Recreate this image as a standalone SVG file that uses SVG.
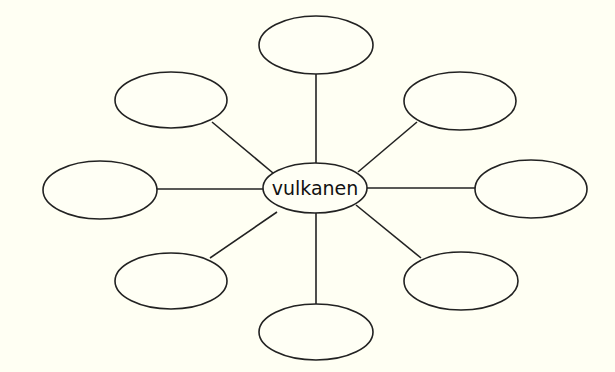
<svg xmlns="http://www.w3.org/2000/svg" width="615" height="372" viewBox="0 0 615 372">
<style>
.n{fill:#FFFFF5;stroke:#222;stroke-width:1.6}
.c line{stroke:#222;stroke-width:1.6}
.t{font-family:"DejaVu Sans",sans-serif;font-size:19px;fill:#111;text-anchor:middle}
</style>
<rect width="615" height="372" fill="#FFFFF3"/>
<g class="c" id="connectors">
<line x1="316" y1="74" x2="316" y2="163"/>
<line x1="316" y1="213" x2="316" y2="304"/>
<line x1="156" y1="189" x2="263" y2="189"/>
<line x1="367" y1="188" x2="475" y2="188"/>
<line x1="212" y1="122" x2="273" y2="173"/>
<line x1="417" y1="122" x2="358" y2="172"/>
<line x1="277" y1="212" x2="210" y2="258"/>
<line x1="356" y1="205" x2="421" y2="258"/>
</g>
<g id="center"><ellipse class="n" cx="315" cy="188" rx="52" ry="25"/><text class="t" x="315" y="195">vulkanen</text></g>
<g id="top"><ellipse class="n" cx="316" cy="45" rx="57" ry="29"/></g>
<g id="upper-left"><ellipse class="n" cx="171" cy="100" rx="56" ry="28"/></g>
<g id="upper-right"><ellipse class="n" cx="460" cy="101" rx="56" ry="29"/></g>
<g id="left"><ellipse class="n" cx="100" cy="190" rx="57" ry="29"/></g>
<g id="right"><ellipse class="n" cx="531" cy="189" rx="56" ry="29"/></g>
<g id="lower-left"><ellipse class="n" cx="171" cy="281" rx="56" ry="28"/></g>
<g id="lower-right"><ellipse class="n" cx="461" cy="281" rx="57" ry="29"/></g>
<g id="bottom"><ellipse class="n" cx="316" cy="332" rx="57" ry="28"/></g>
</svg>
